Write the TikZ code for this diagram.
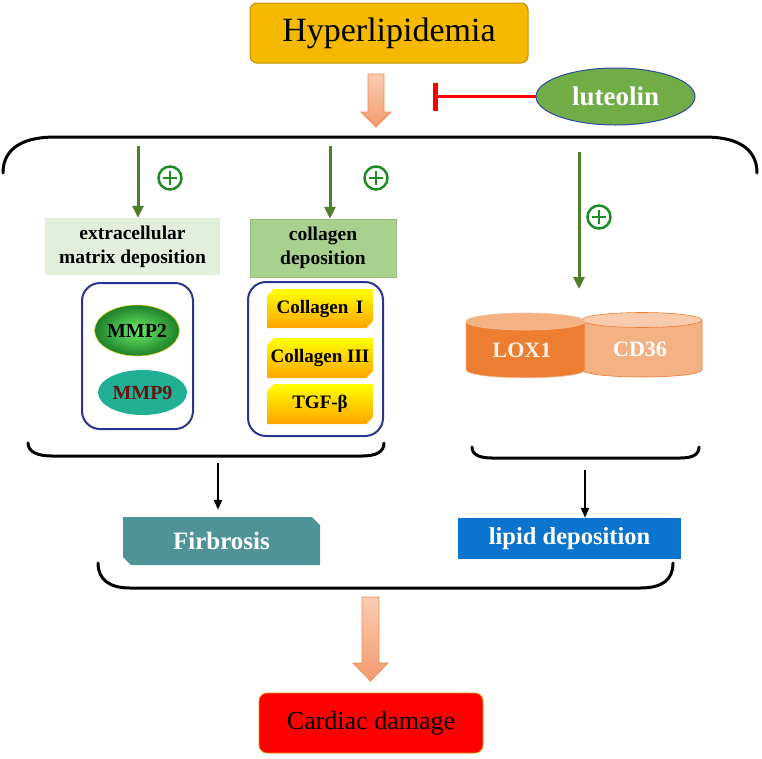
\documentclass[tikz,border=0pt]{standalone}
\usepackage{fontspec}
\setmainfont{Liberation Serif}
\usetikzlibrary{shapes.geometric,arrows.meta}
\definecolor{hypF}{HTML}{F5BA00}
\definecolor{hypB}{HTML}{C09000}
\definecolor{lutF}{HTML}{70AD47}
\definecolor{lutB}{HTML}{2F4AA0}
\definecolor{gArr}{HTML}{4E7F2A}
\definecolor{plusC}{HTML}{1E8B24}
\definecolor{ecmF}{HTML}{E2EFDA}
\definecolor{colF}{HTML}{A9D18E}
\definecolor{boxB}{HTML}{2B3590}
\definecolor{mmpIn}{HTML}{6AF06A}
\definecolor{mmpOut}{HTML}{1E7F28}
\definecolor{mmp9F}{HTML}{20B094}
\definecolor{mmp9T}{HTML}{6B1010}
\definecolor{fibF}{HTML}{4F9399}
\definecolor{lipF}{HTML}{0A74CE}
\definecolor{loxBody}{HTML}{ED7D31}
\definecolor{loxTop}{HTML}{F4B183}
\definecolor{cdBody}{HTML}{F4B183}
\definecolor{cdTop}{HTML}{F8CBAD}
\definecolor{arrTop}{HTML}{F9CDB3}
\definecolor{arrBot}{HTML}{F49A6E}
\definecolor{arrB}{HTML}{EE8A5A}
\definecolor{cardB}{HTML}{D9A000}
\definecolor{colTop}{HTML}{FFFF00}
\definecolor{colBot}{HTML}{FFA500}
\begin{document}
\begin{tikzpicture}[x=1pt,y=-1pt,
  bracket/.style={line width=3pt, line cap=round},
  garrow/.style={draw=gArr, line width=3pt, -{Triangle[width=11pt,length=12pt]}},
  karrow/.style={line width=2pt, -{Triangle[width=8pt,length=10pt]}},
  plus/.style={circle, draw=plusC, line width=2.5pt, minimum size=23pt, inner sep=0pt,
    path picture={\draw[plusC, line width=2.6pt]
      ([xshift=-7pt]path picture bounding box.center) -- ([xshift=7pt]path picture bounding box.center)
      ([yshift=-7pt]path picture bounding box.center) -- ([yshift=7pt]path picture bounding box.center);}},
  hollow/.style={top color=arrTop, bottom color=arrBot, draw=arrB, line width=0.8pt},
  colbox/.style={top color=colTop, bottom color=colBot, draw=none},
  coltext/.style={font=\bfseries\fontsize{19}{22}\selectfont},
  bluebox/.style={draw=boxB, line width=2pt, rounded corners=18pt},
  cyltext/.style={font=\bfseries\fontsize{22}{26}\selectfont}]
\useasboundingbox (0,0) rectangle (762,758);

% top
\node[draw=hypB, fill=hypF, rounded corners=7pt, line width=1pt, minimum width=278pt,
  minimum height=60pt, inner sep=0pt, font=\fontsize{34}{38}\selectfont] (hyper) at (389,33) {Hyperlipidemia};
\path[hollow] (368,74) -- (384,74) -- (384,112) -- (391,112) -- (376,127) -- (361,112) -- (368,112) -- cycle;

\node[ellipse, draw=lutB, fill=lutF, line width=1pt, minimum width=159pt, minimum height=57pt,
  inner sep=0pt, text=white, font=\bfseries\fontsize{27}{30}\selectfont] (lut) at (615.5,96.5) {luteolin};
\coordinate (inh) at (433,96.5);
\draw[red, line width=3.4pt, -{Bar[width=28pt,line width=4.5pt]}] (lut.west) -- (inh);

% big bracket
\draw[bracket] (3,173) .. controls (3,147) and (25,137) .. (55,137) -- (705,137)
  .. controls (735,137) and (757,147) .. (757,173);

% green arrows and plus signs
\coordinate (s1) at (138,146);
\coordinate (s2) at (330,146);
\coordinate (s3) at (579,152);
\coordinate (t3) at (579,289);
\node[fill=ecmF, minimum width=175pt, minimum height=57pt, inner sep=0pt, align=center,
  font=\bfseries\fontsize{19.5}{24}\selectfont] (ecm) at (132.5,246.5) {extracellular\\matrix deposition};
\node[fill=colF, draw=colF!90!black, line width=0.5pt, minimum width=146pt, minimum height=58pt, inner sep=0pt, align=center,
  font=\bfseries\fontsize{19.5}{24}\selectfont] (cdep) at (323,248) {collagen\\deposition};
\draw[garrow] (s1) -- (s1 |- ecm.north);
\draw[garrow] (s2) -- (s2 |- cdep.north);
\draw[garrow] (s3) -- (t3);
\node[plus] (p1) at (170,178) {};
\node[plus] (p2) at (376,178) {};
\node[plus] (p3) at (599,217) {};

% left group
\node[bluebox, minimum width=111pt, minimum height=146pt] (gbox1) at (137.5,356) {};
\node[ellipse, draw=yellow!85!black, line width=0.6pt, inner color=mmpIn, outer color=mmpOut,
  minimum width=84pt, minimum height=51pt, inner sep=0pt, font=\bfseries\fontsize{20}{22}\selectfont] (mmp2) at (137,330.5) {MMP2};
\node[ellipse, fill=mmp9F, minimum width=89pt, minimum height=45pt, inner sep=0pt,
  text=mmp9T, font=\bfseries\fontsize{20}{22}\selectfont] (mmp9) at (142.5,392.5) {MMP9};

% right group
\node[bluebox, minimum width=135pt, minimum height=154pt] (gbox2) at (315.5,359) {};
\path[colbox] (274,289) -- (373,289) -- (373,321) -- (366,328) -- (267,328) -- (267,296) -- cycle;
\path[colbox] (274,338) -- (373,338) -- (373,371) -- (366,378) -- (267,378) -- (267,345) -- cycle;
\path[colbox] (274,384) -- (373,384) -- (373,417) -- (366,424) -- (267,424) -- (267,391) -- cycle;
\node[coltext] (col1) at (320,308.5) {Collagen\hspace{0.4em}I};
\node[coltext] (col3) at (320,358) {Collagen III};
\node[coltext] (tgf) at (320,404) {TGF-β};

% cylinders
\fill[cdBody, draw=loxBody, line width=0.6pt] (582,320) -- (582,369.5)
  .. controls (582,379.5) and (702,379.5) .. (702,369.5) -- (702,320) -- cycle;
\fill[cdTop, draw=loxBody, line width=0.6pt] (642,320) ellipse [x radius=60, y radius=7.5];
\fill[loxBody, draw=loxTop, line width=0.6pt] (466,321.5) -- (466,369.5)
  .. controls (466,380.5) and (585,380.5) .. (585,369.5) -- (585,321.5) -- cycle;
\fill[loxTop, draw=loxTop!80!white, line width=0.6pt] (525.5,321.5) ellipse [x radius=59.5, y radius=8.5];
\node[cyltext, text=white!92!orange] (lox) at (522,350) {LOX1};
\node[cyltext, text=white] (cd36) at (640,349) {CD36};

% lower brackets
\draw[bracket] (28,443) .. controls (28,452) and (38,456) .. (52,456) -- (362,456)
  .. controls (376,456) and (384,452) .. (384,443);
\draw[bracket] (472,447) .. controls (472,455) and (480,458) .. (492,458) -- (680,458)
  .. controls (692,458) and (699,455) .. (699,447);

% outcomes
\path[fill=fibF] (123,517) -- (312,517) -- (320,525) -- (320,565) -- (131,565) -- (123,557) -- cycle;
\node[minimum width=197pt, minimum height=48pt, inner sep=0pt, text=white,
  font=\bfseries\fontsize{25}{28}\selectfont] (fib) at (221.5,541) {Firbrosis};
\node[fill=lipF, minimum width=223pt, minimum height=41pt, inner sep=0pt, text=white,
  font=\bfseries\fontsize{24.5}{28}\selectfont] (lipid) at (569.5,538.5) {lipid deposition};
\coordinate (k1) at (218,463);
\coordinate (k2) at (585,470);
\draw[karrow] (k1) -- ([yshift=7pt]k1 |- fib.north);
\draw[karrow] (k2) -- (k2 |- lipid.north);

% bottom bracket
\draw[bracket] (98,563) .. controls (98,580) and (110,588) .. (130,588) -- (640,588)
  .. controls (662,588) and (673,580) .. (673,563);

\path[hollow] (362,597) -- (379,597) -- (379,663) -- (388,663) -- (370.5,681) -- (353,663) -- (362,663) -- cycle;

\node[fill=red, draw=cardB, line width=0.8pt, rounded corners=8pt, minimum width=224pt,
  minimum height=60pt, inner sep=0pt, font=\fontsize{26}{30}\selectfont] (card) at (371,723) {Cardiac damage};
\end{tikzpicture}
\end{document}
